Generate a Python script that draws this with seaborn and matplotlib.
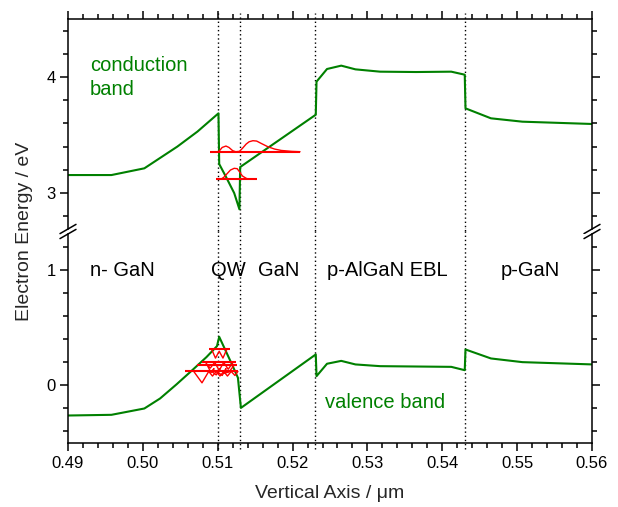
import matplotlib
matplotlib.use("Agg")
import matplotlib.pyplot as plt
from matplotlib.ticker import MultipleLocator, FormatStrFormatter
import seaborn as sns

# band edges (position in um, energy in eV)
cb_x = [0.4900, 0.4958, 0.5002, 0.5046, 0.5073, 0.5101, 0.5102, 0.5111, 0.5122, 0.5129,
        0.5130, 0.5231, 0.5232, 0.5246, 0.5265, 0.5284, 0.5317, 0.5365, 0.5412, 0.5430,
        0.5431, 0.5465, 0.5507, 0.5601]
cb_e = [3.155, 3.155, 3.213, 3.400, 3.530, 3.687, 3.250, 3.140, 3.000, 2.860,
        3.224, 3.675, 3.960, 4.069, 4.098, 4.066, 4.046, 4.043, 4.046, 4.020,
        3.730, 3.644, 3.615, 3.595]

vb_x = [0.4900, 0.4958, 0.5002, 0.5023, 0.5045, 0.5067, 0.5085, 0.5099, 0.5102, 0.5120,
        0.5127, 0.5131, 0.5231, 0.5232, 0.5246, 0.5265, 0.5284, 0.5317, 0.5412, 0.5430,
        0.5431, 0.5465, 0.5507, 0.5601]
vb_e = [-0.261, -0.255, -0.200, -0.113, 0.010, 0.139, 0.247, 0.342, 0.423, 0.170,
        0.067, -0.195, 0.270, 0.081, 0.189, 0.214, 0.183, 0.168, 0.162, 0.133,
        0.313, 0.235, 0.203, 0.183]

interfaces = [0.510, 0.513, 0.523, 0.543]

# electron states in the well (level, line span, wavefunction samples)
e_levels = [3.356, 3.118]
e_spans = [(0.5090, 0.5210), (0.5098, 0.5152)]
e1_x = [0.5100, 0.5102, 0.5106, 0.5111, 0.5115, 0.5120, 0.5124, 0.5129, 0.5133, 0.5138,
        0.5142, 0.5147, 0.5152, 0.5158, 0.5167, 0.5176, 0.5185, 0.5199, 0.5210]
e1_amp = [0.0, 0.006, 0.037, 0.049, 0.037, 0.009, 0.0, 0.003, 0.029, 0.066,
          0.086, 0.095, 0.092, 0.072, 0.043, 0.023, 0.011, 0.003, 0.0]
e2_x = [0.5104, 0.5108, 0.5113, 0.5117, 0.5122, 0.5126, 0.5129, 0.5133, 0.5138, 0.5142]
e2_amp = [0.0, 0.017, 0.052, 0.080, 0.095, 0.092, 0.066, 0.029, 0.009, 0.0]

# hole states (hang below their level)
h_levels = [0.313, 0.206, 0.177, 0.122]
h_spans = [(0.5089, 0.5117), (0.5079, 0.5125), (0.5072, 0.5126), (0.5056, 0.5127)]
h_x = [
    [0.5092, 0.5097, 0.5102, 0.5107, 0.5112],
    [0.5083, 0.5090, 0.5096, 0.5102, 0.5108, 0.5114, 0.5121],
    [0.5086, 0.5091, 0.5095, 0.5093, 0.5098, 0.5103, 0.5101, 0.5106, 0.5111, 0.5109, 0.5115, 0.5122],
    [0.5068, 0.5079, 0.5088, 0.5093, 0.5098, 0.5103, 0.5108, 0.5113, 0.5118, 0.5123, 0.5127],
]
h_amp = [
    [0.0, -0.075, -0.015, -0.075, 0.0],
    [0.0, -0.055, -0.005, -0.075, -0.005, -0.065, 0.0],
    [0.0, -0.065, -0.030, -0.060, -0.085, -0.030, -0.065, -0.090, -0.030, -0.070, -0.060, 0.0],
    [0.0, -0.099, 0.0, -0.040, 0.0, -0.040, 0.0, -0.040, 0.0, -0.035, 0.0],
]

regions = ["n- GaN", "QW", "GaN", "p-AlGaN EBL", "p-GaN"]
region_pos = [0.4973, 0.5114, 0.5181, 0.5327, 0.5517]

green = "#008000"
red = "#ff0000"

sns.set_theme(style="ticks")
plt.rcParams["font.family"] = ["Liberation Sans", "DejaVu Sans"]
plt.rcParams["axes.linewidth"] = 1.1

fig = plt.figure(figsize=(6.18, 5.07), dpi=100)
W, H = 618, 507
left, right = 68 / W, 592 / W
ax_top = fig.add_axes([left, 1 - 229 / H, right - left, 210 / H])
ax_bot = fig.add_axes([left, 1 - 443 / H, right - left, 209 / H])

for ax in (ax_top, ax_bot):
    ax.set_xlim(0.49, 0.56)
    ax.xaxis.set_major_locator(MultipleLocator(0.01))
    ax.xaxis.set_minor_locator(MultipleLocator(0.002))
    ax.yaxis.set_major_locator(MultipleLocator(1))
    ax.yaxis.set_minor_locator(MultipleLocator(0.2))
    ax.tick_params(which="both", direction="out", width=1.1, colors="black",
                   labelsize=12, pad=3, left=True, right=True)
    ax.tick_params(which="major", length=6)
    ax.tick_params(which="minor", length=3.5)
    for s in ax.spines.values():
        s.set_color("black")
    for xi in interfaces:
        ax.axvline(xi, ymin=-0.03, ymax=1.03, color="black", ls=(0, (1, 2)), lw=1, clip_on=False)

ax_top.set_ylim(2.69, 4.5)
ax_bot.set_ylim(-0.5, 1.317)

ax_top.spines["bottom"].set_visible(False)
ax_top.tick_params(which="both", bottom=False, top=True, labelbottom=False)
ax_bot.spines["top"].set_visible(False)
ax_bot.tick_params(which="both", top=False, bottom=True)
ax_bot.xaxis.set_major_formatter(FormatStrFormatter("%.2f"))

# bands
sns.lineplot(x=cb_x, y=cb_e, sort=False, estimator=None, color=green, lw=1.5, ax=ax_top)
sns.lineplot(x=vb_x, y=vb_e, sort=False, estimator=None, color=green, lw=1.5, ax=ax_bot)

# electron wavefunctions
for lev, span in zip(e_levels, e_spans):
    ax_top.hlines(lev, span[0], span[1], color=red, lw=1.5)
sns.lineplot(x=e1_x, y=[e_levels[0] + a for a in e1_amp], sort=False, estimator=None,
             color=red, lw=1, ax=ax_top)
sns.lineplot(x=e2_x, y=[e_levels[1] + a for a in e2_amp], sort=False, estimator=None,
             color=red, lw=1, ax=ax_top)

# hole wavefunctions
for lev, span, hx, ha in zip(h_levels, h_spans, h_x, h_amp):
    ax_bot.hlines(lev, span[0], span[1], color=red, lw=1.5)
    sns.lineplot(x=hx, y=[lev + a for a in ha], sort=False, estimator=None,
                 color=red, lw=1, ax=ax_bot)

for ax in (ax_top, ax_bot):
    ax.set_xlabel("")
    ax.set_ylabel("")

# axis break marks
dx = 8 / 524
for x0 in (0, 1):
    ax_top.plot([x0 - dx, x0 + dx], [-0.022, 0.022], transform=ax_top.transAxes,
                color="black", lw=1.1, clip_on=False)
    ax_bot.plot([x0 - dx, x0 + dx], [1 - 0.022, 1 + 0.022], transform=ax_bot.transAxes,
                color="black", lw=1.1, clip_on=False)

# text
ax_top.text(0.4929, 4.095, "conduction", color=green, fontsize=14.5, ha="left", va="center")
ax_top.text(0.4929, 3.89, "band", color=green, fontsize=14.5, ha="left", va="center")
ax_bot.text(0.5323, -0.145, "valence band", color=green, fontsize=14.5, ha="center", va="center")
for name, xp in zip(regions, region_pos):
    ax_bot.text(xp, 1.0, name, color="black", fontsize=14.5, ha="center", va="center")

fig.text(330 / W, 1 - 494 / H, "Vertical Axis / \u03bcm", fontsize=14, ha="center", va="center")
fig.text(25 / W, 1 - 231 / H, "Electron Energy / eV", fontsize=14, ha="center", va="center",
         rotation=90)

fig.savefig("out.png", dpi=100)
